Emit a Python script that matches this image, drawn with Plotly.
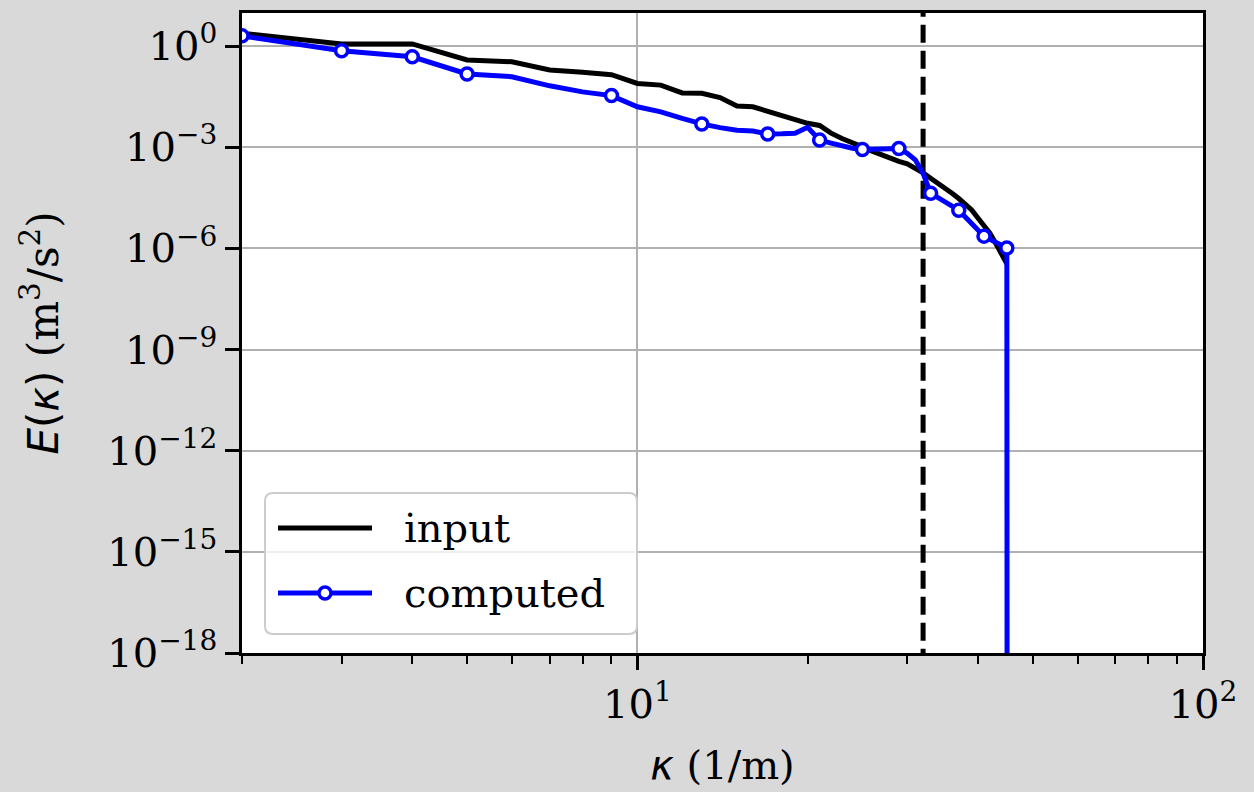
import plotly.graph_objects as go

# ---------------- data ----------------
k_values = [2, 3, 4, 5, 6, 7, 8, 9, 10, 11, 12, 13, 14, 15, 16, 17, 18, 19, 20, 21, 22, 23,
            24, 25, 26, 27, 28, 29, 30, 31, 32, 33, 34, 35, 36, 37, 38, 39, 40, 41, 42, 43,
            44, 45, 46]
input_E = [2.4, 1.15, 1.15, 0.385, 0.342, 0.195, 0.166, 0.141, 0.0776, 0.0692, 0.0407,
           0.0398, 0.0295, 0.0166, 0.0158, 0.0117, 0.0089, 0.0068, 0.0051, 0.0044, 0.0026,
           0.0018, 1.41e-3, 1.02e-3, 7.6e-4, 5.9e-4, 4.7e-4, 3.8e-4, 3.2e-4, 2.4e-4, 1.74e-4,
           1.2e-4, 8.7e-5, 6.2e-5, 4.3e-5, 3.0e-5, 2.0e-5, 1.38e-5, 7.9e-6, 4.8e-6, 2.8e-6,
           1.41e-6, 7.1e-7, 3.5e-7, None]
computed_E = [2.0, 0.72, 0.48, 0.148, 0.123, 0.066, 0.0437, 0.0339, 0.0158, 0.0112, 0.0071,
              0.0049, 0.0038, 0.0032, 0.0030, 0.00245, 0.0025, 0.0026, 0.0039, 0.00162,
              1.32e-3, 1.07e-3, 9.3e-4, 8.5e-4, 8.5e-4, 8.5e-4, 8.7e-4, 9.1e-4, 6.6e-4, 4.2e-4,
              1.66e-4, 4.3e-5, 3.2e-5, 2.45e-5, 1.86e-5, 1.35e-5, 8.5e-6, 5.4e-6, 3.5e-6,
              2.3e-6, 1.86e-6, 1.51e-6, 1.23e-6, 1.02e-6, 1e-300]
marker_k = [2, 3, 4, 5, 9, 13, 17, 21, 25, 29, 33, 37, 41, 45]
k_cutoff = 32

y_tick_vals = [1e0, 1e-3, 1e-6, 1e-9, 1e-12, 1e-15, 1e-18]
y_tick_text = ["10<sup>0</sup>", "10<sup>\u22123</sup>", "10<sup>\u22126</sup>", "10<sup>\u22129</sup>",
               "10<sup>\u221212</sup>", "10<sup>\u221215</sup>", "10<sup>\u221218</sup>"]
x_tick_vals = [10, 100]
x_tick_text = ["10<sup>1</sup>", "10<sup>2</sup>"]
x_minor_vals = [2, 3, 4, 5, 6, 7, 8, 9, 20, 30, 40, 50, 60, 70, 80, 90]

legend_labels = ["input", "computed"]

# ---------------- layout geometry (pixels) ----------------
W, H = 1254, 792
L, R, T, B = 242, 1203, 13, 653
SERIF = "DejaVu Serif"
FS = 40
LW = 5


def px(xp):
    return (xp - L) / (R - L)


def py(yp):
    return (B - yp) / (B - T)


fig = go.Figure()

# dashed cutoff line
fig.add_trace(go.Scatter(x=[k_cutoff, k_cutoff], y=[1e-40, 1e40], mode="lines",
                         line=dict(color="black", width=LW, dash="18px,8px"),
                         showlegend=False, hoverinfo="skip"))

fig.add_trace(go.Scatter(x=k_values, y=input_E, mode="lines", name=legend_labels[0],
                         line=dict(color="black", width=LW), showlegend=False))

fig.add_trace(go.Scatter(x=k_values, y=computed_E, mode="lines", name=legend_labels[1],
                         line=dict(color="#0000ff", width=LW), showlegend=False))

mk_idx = [k_values.index(k) for k in marker_k]
fig.add_trace(go.Scatter(x=[k_values[i] for i in mk_idx], y=[computed_E[i] for i in mk_idx],
                         mode="markers", name=legend_labels[1], showlegend=False,
                         marker=dict(size=12, color="white", line=dict(color="#0000ff", width=3.5))))

# ---------------- custom legend ----------------
lx0, lx1, ly0, ly1, rad = 265, 637, 493, 634, 8
rx = rad / (R - L)
ry = rad / (B - T)
X0, X1, Y0, Y1 = px(lx0), px(lx1), py(ly1), py(ly0)
path = (f"M{X0 + rx},{Y0} L{X1 - rx},{Y0} Q{X1},{Y0} {X1},{Y0 + ry} "
        f"L{X1},{Y1 - ry} Q{X1},{Y1} {X1 - rx},{Y1} L{X0 + rx},{Y1} "
        f"Q{X0},{Y1} {X0},{Y1 - ry} L{X0},{Y0 + ry} Q{X0},{Y0} {X0 + rx},{Y0} Z")
mr = 6
shapes = [
    dict(type="path", xref="paper", yref="paper", path=path, layer="above",
         fillcolor="rgba(255,255,255,0.8)", line=dict(color="#cccccc", width=2)),
    dict(type="line", xref="paper", yref="paper", x0=px(278), x1=px(372), y0=py(528), y1=py(528),
         layer="above", line=dict(color="black", width=LW)),
    dict(type="line", xref="paper", yref="paper", x0=px(278), x1=px(372), y0=py(593), y1=py(593),
         layer="above", line=dict(color="#0000ff", width=LW)),
    dict(type="circle", xref="paper", yref="paper", x0=px(325 - mr), x1=px(325 + mr),
         y0=py(593 + mr), y1=py(593 - mr), layer="above", fillcolor="white",
         line=dict(color="#0000ff", width=3.5)),
]
annotations = [
    dict(text=legend_labels[0], xref="paper", yref="paper", x=px(402), y=py(528),
         xanchor="left", yanchor="middle", showarrow=False, font=dict(family=SERIF, size=FS, color="black")),
    dict(text=legend_labels[1], xref="paper", yref="paper", x=px(402), y=py(593),
         xanchor="left", yanchor="middle", showarrow=False, font=dict(family=SERIF, size=FS, color="black")),
]

fig.update_layout(
    width=W, height=H,
    margin=dict(l=L, r=W - R, t=T, b=H - B, autoexpand=False),
    paper_bgcolor="#d9d9d9", plot_bgcolor="white",
    font=dict(family=SERIF, size=FS, color="black"),
    showlegend=False,
    shapes=shapes, annotations=annotations,
)

fig.update_xaxes(
    type="log", range=[0.30103, 2.0],
    tickmode="array", tickvals=x_tick_vals, ticktext=x_tick_text,
    ticks="outside", ticklen=14, tickwidth=2.5, tickcolor="black",
    showline=True, linewidth=2.5, linecolor="black", mirror=True,
    showgrid=True, gridcolor="#b0b0b0", gridwidth=2,
    zeroline=False,
    minor=dict(tickvals=x_minor_vals, ticks="outside", ticklen=8, tickwidth=2, tickcolor="black",
               showgrid=False),
    title=dict(text='<span style="font-family:DejaVu Sans"><i>\u03ba</i></span> (1/m)',
               font=dict(family=SERIF, size=FS), standoff=26),
    tickfont=dict(family=SERIF, size=FS),
)

fig.update_yaxes(
    type="log", range=[-18, 0.979],
    tickmode="array", tickvals=y_tick_vals, ticktext=y_tick_text,
    ticks="outside", ticklen=14, tickwidth=2.5, tickcolor="black",
    showline=True, linewidth=2.5, linecolor="black", mirror=True,
    showgrid=True, gridcolor="#b0b0b0", gridwidth=2,
    zeroline=False,
    title=dict(text='<span style="font-family:DejaVu Sans"><i>E</i>(<i>\u03ba</i>)</span> (m<sup>3</sup>/s<sup>2</sup>)',
               font=dict(family=SERIF, size=42), standoff=36),
    tickfont=dict(family=SERIF, size=FS),
)

fig.write_html("out.html")
